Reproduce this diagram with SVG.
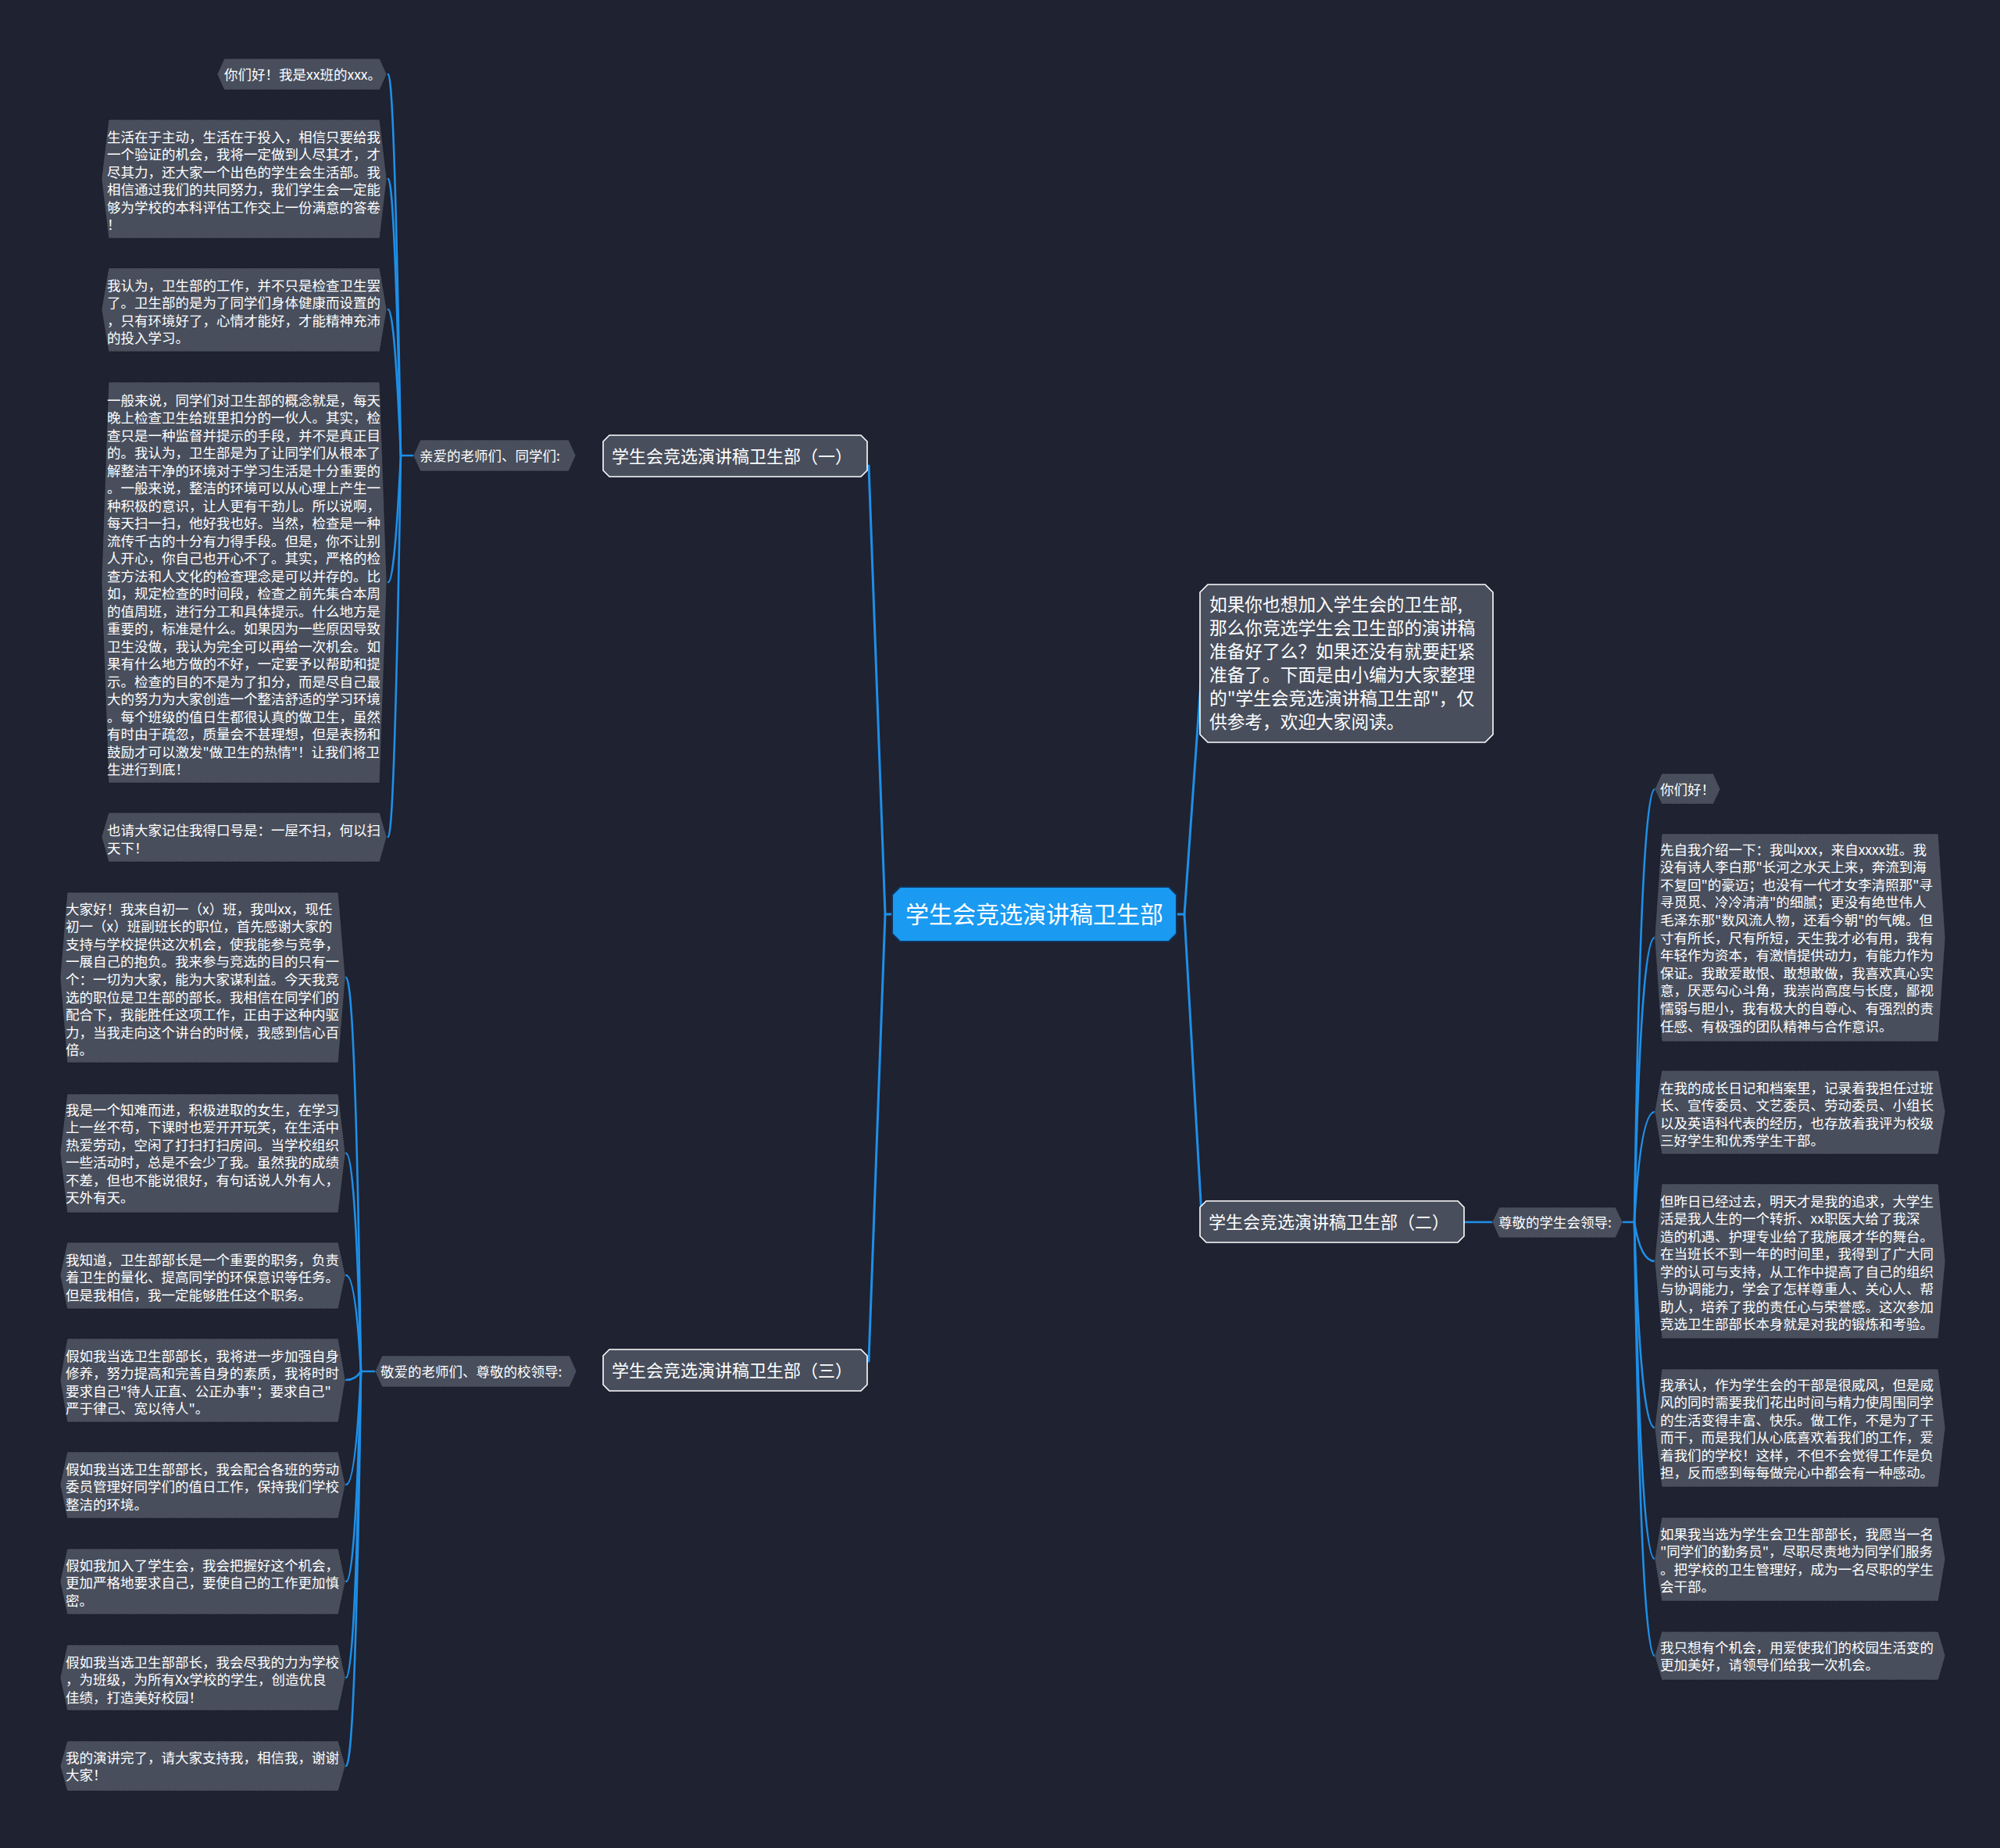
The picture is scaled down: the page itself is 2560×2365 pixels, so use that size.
<svg xmlns="http://www.w3.org/2000/svg" width="2560" height="2365" viewBox="0 0 2560 2365">
<style>
text{font-family:"Noto Sans CJK SC","Noto Sans",sans-serif;fill:#ffffff}
.leaf{fill:#484e5c;stroke:#15181f;stroke-width:1;stroke-dasharray:1.5 1.5}
.lt{font-size:17.5px}
.sub{fill:#484e5c;stroke:#15181f;stroke-width:1;stroke-dasharray:1.5 1.5}
.br{fill:#484e5c;stroke:#ffffff;stroke-width:1.6}
.bt{font-size:22px}
.conn{fill:none;stroke:#1e8fe8;stroke-width:2.6;stroke-linecap:round}
.main{fill:none;stroke:#1e8fe8;stroke-width:3;stroke-linecap:round}
</style>
<rect width="2560" height="2365" fill="#1f2230"/>
<g id="connectors">
<path class="main" d="M1145 1170 H1133 L1112 596"/>
<path class="main" d="M1133 1170 L1112 1742"/>
<path class="main" d="M1503 1170 H1516 L1538 860"/>
<path class="main" d="M1516 1170 L1538 1556"/>
<path class="conn" d="M1108 584 H775"/>
<path class="conn" d="M1108 1754 H775"/>
<path class="conn" d="M1874 1564 H1912"/>
<path class="conn" d="M532 583 H513"/>
<path class="conn" d="M513 583 Q505 95 497 95"/>
<path class="conn" d="M513 583 Q505 229 497 229"/>
<path class="conn" d="M513 583 Q505 396 497 396"/>
<path class="conn" d="M513 583 Q505 745 497 745"/>
<path class="conn" d="M513 583 Q505 1071 497 1071"/>
<path class="conn" d="M2075 1564 H2092"/>
<path class="conn" d="M2092 1564 Q2100 1010 2118 1010"/>
<path class="conn" d="M2092 1564 Q2100 1200 2118 1200"/>
<path class="conn" d="M2092 1564 Q2100 1423 2118 1423"/>
<path class="conn" d="M2092 1564 Q2100 1614 2118 1614"/>
<path class="conn" d="M2092 1564 Q2100 1827 2118 1827"/>
<path class="conn" d="M2092 1564 Q2100 1995 2118 1995"/>
<path class="conn" d="M2092 1564 Q2100 2119 2118 2119"/>
<path class="conn" d="M482 1755 H462"/>
<path class="conn" d="M462 1755 Q455 1251 443 1251"/>
<path class="conn" d="M462 1755 Q455 1476 443 1476"/>
<path class="conn" d="M462 1755 Q455 1632 443 1632"/>
<path class="conn" d="M462 1755 Q455 1766 443 1766"/>
<path class="conn" d="M462 1755 Q455 1900 443 1900"/>
<path class="conn" d="M462 1755 Q455 2024 443 2024"/>
<path class="conn" d="M462 1755 Q455 2147 443 2147"/>
<path class="conn" d="M462 1755 Q455 2260 443 2260"/>
</g>

<g id="root">
<path d="M1152 1135 H1496 L1506 1145 V1195 L1496 1205 H1152 L1142 1195 V1145 Z" fill="#1a9af1" stroke="#13335a" stroke-width="2"/>
<text x="1159" y="1181" style="font-size:30px">学生会竞选演讲稿卫生部</text>
</g>

<g id="desc">
<path d="M1546 748 H1901 L1911 758 V940 L1901 950 H1546 L1536 940 V758 Z" class="br"/>
<text style="font-size:22.7px"><tspan x="1548" y="781.5">如果你也想加入学生会的卫生部,</tspan><tspan x="1548" y="811.5">那么你竞选学生会卫生部的演讲稿</tspan><tspan x="1548" y="841.5">准备好了么？如果还没有就要赶紧</tspan><tspan x="1548" y="871.5">准备了。下面是由小编为大家整理</tspan><tspan x="1548" y="901.5">的"学生会竞选演讲稿卫生部"，仅</tspan><tspan x="1548" y="931.5">供参考，欢迎大家阅读。</tspan></text>
</g>

<g id="branch1">
<path d="M780 557 H1102 L1110 565 V602 L1102 610 H780 L772 602 V565 Z" class="br"/>
<text class="bt" x="783" y="592">学生会竞选演讲稿卫生部（一）</text>
</g>
<g id="branch2">
<path d="M1544 1537 H1866 L1874 1545 V1582 L1866 1590 H1544 L1536 1582 V1545 Z" class="br"/>
<text class="bt" x="1547" y="1572">学生会竞选演讲稿卫生部（二）</text>
</g>
<g id="branch3">
<path d="M780 1727 H1102 L1110 1735 V1772 L1102 1780 H780 L772 1772 V1735 Z" class="br"/>
<text class="bt" x="783" y="1762">学生会竞选演讲稿卫生部（三）</text>
</g>

<g id="sub1">
<path d="M538 563 H728 L737 583 L728 603 H538 L529 583 Z" class="sub"/>
<text class="lt" x="537" y="589.5">亲爱的老师们、同学们:</text>
</g>
<g id="sub2">
<path d="M1919 1545 H2068 L2077 1564 L2068 1584 H1919 L1910 1564 Z" class="sub"/>
<text class="lt" x="1918" y="1570.5">尊敬的学生会领导:</text>
</g>
<g id="sub3">
<path d="M489 1735 H729 L738 1755 L729 1775 H489 L480 1755 Z" class="sub"/>
<text class="lt" x="487" y="1761.5">敬爱的老师们、尊敬的校领导:</text>
</g>

<g id="leaf-a1">
<path class="leaf" d="M287 75 H486 L495 95 L486 115 H287 L278 95 Z"/>
<text class="lt" x="287" y="101.5">你们好！我是xx班的xxx。</text>
</g>
<g id="leaf-a2">
<path class="leaf" d="M139 153 H486 L495 229 L486 305 H139 L130 229 Z"/>
<text class="lt"><tspan x="137" y="181.5">生活在于主动，生活在于投入，相信只要给我</tspan><tspan x="137" dy="22.5">一个验证的机会，我将一定做到人尽其才，才</tspan><tspan x="137" dy="22.5">尽其力，还大家一个出色的学生会生活部。我</tspan><tspan x="137" dy="22.5">相信通过我们的共同努力，我们学生会一定能</tspan><tspan x="137" dy="22.5">够为学校的本科评估工作交上一份满意的答卷</tspan><tspan x="137" dy="22.5">！</tspan></text>
</g>
<g id="leaf-a3">
<path class="leaf" d="M139 343 H486 L495 396 L486 450 H139 L130 396 Z"/>
<text class="lt"><tspan x="137" y="371.5">我认为，卫生部的工作，并不只是检查卫生罢</tspan><tspan x="137" dy="22.5">了。卫生部的是为了同学们身体健康而设置的</tspan><tspan x="137" dy="22.5">，只有环境好了，心情才能好，才能精神充沛</tspan><tspan x="137" dy="22.5">的投入学习。</tspan></text>
</g>
<g id="leaf-a4">
<path class="leaf" d="M139 489 H486 L495 745 L486 1002 H139 L130 745 Z"/>
<text class="lt"><tspan x="137" y="518.5">一般来说，同学们对卫生部的概念就是，每天</tspan><tspan x="137" dy="22.5">晚上检查卫生给班里扣分的一伙人。其实，检</tspan><tspan x="137" dy="22.5">查只是一种监督并提示的手段，并不是真正目</tspan><tspan x="137" dy="22.5">的。我认为，卫生部是为了让同学们从根本了</tspan><tspan x="137" dy="22.5">解整洁干净的环境对于学习生活是十分重要的</tspan><tspan x="137" dy="22.5">。一般来说，整洁的环境可以从心理上产生一</tspan><tspan x="137" dy="22.5">种积极的意识，让人更有干劲儿。所以说啊，</tspan><tspan x="137" dy="22.5">每天扫一扫，他好我也好。当然，检查是一种</tspan><tspan x="137" dy="22.5">流传千古的十分有力得手段。但是，你不让别</tspan><tspan x="137" dy="22.5">人开心，你自己也开心不了。其实，严格的检</tspan><tspan x="137" dy="22.5">查方法和人文化的检查理念是可以并存的。比</tspan><tspan x="137" dy="22.5">如，规定检查的时间段，检查之前先集合本周</tspan><tspan x="137" dy="22.5">的值周班，进行分工和具体提示。什么地方是</tspan><tspan x="137" dy="22.5">重要的，标准是什么。如果因为一些原因导致</tspan><tspan x="137" dy="22.5">卫生没做，我认为完全可以再给一次机会。如</tspan><tspan x="137" dy="22.5">果有什么地方做的不好，一定要予以帮助和提</tspan><tspan x="137" dy="22.5">示。检查的目的不是为了扣分，而是尽自己最</tspan><tspan x="137" dy="22.5">大的努力为大家创造一个整洁舒适的学习环境</tspan><tspan x="137" dy="22.5">。每个班级的值日生都很认真的做卫生，虽然</tspan><tspan x="137" dy="22.5">有时由于疏忽，质量会不甚理想，但是表扬和</tspan><tspan x="137" dy="22.5">鼓励才可以激发"做卫生的热情"！让我们将卫</tspan><tspan x="137" dy="22.5">生进行到底！</tspan></text>
</g>
<g id="leaf-a5">
<path class="leaf" d="M139 1040 H486 L495 1071 L486 1103 H139 L130 1071 Z"/>
<text class="lt"><tspan x="137" y="1068.5">也请大家记住我得口号是：一屋不扫，何以扫</tspan><tspan x="137" dy="23">天下！</tspan></text>
</g>

<g id="leaf-b1">
<path class="leaf" d="M2127 990 H2193 L2202 1010 L2193 1029 H2127 L2118 1010 Z"/>
<text class="lt" x="2125" y="1016.5">你们好！</text>
</g>
<g id="leaf-b2">
<path class="leaf" d="M2127 1067 H2481 L2490 1200 L2481 1333 H2127 L2118 1200 Z"/>
<text class="lt"><tspan x="2125" y="1093.5">先自我介绍一下：我叫xxx，来自xxxx班。我</tspan><tspan x="2125" dy="22.6">没有诗人李白那"长河之水天上来，奔流到海</tspan><tspan x="2125" dy="22.6">不复回"的豪迈；也没有一代才女李清照那"寻</tspan><tspan x="2125" dy="22.6">寻觅觅、冷冷清清"的细腻；更没有绝世伟人</tspan><tspan x="2125" dy="22.6">毛泽东那"数风流人物，还看今朝"的气魄。但</tspan><tspan x="2125" dy="22.6">寸有所长，尺有所短，天生我才必有用，我有</tspan><tspan x="2125" dy="22.6">年轻作为资本，有激情提供动力，有能力作为</tspan><tspan x="2125" dy="22.6">保证。我敢爱敢恨、敢想敢做，我喜欢真心实</tspan><tspan x="2125" dy="22.6">意，厌恶勾心斗角，我崇尚高度与长度，鄙视</tspan><tspan x="2125" dy="22.6">懦弱与胆小，我有极大的自尊心、有强烈的责</tspan><tspan x="2125" dy="22.6">任感、有极强的团队精神与合作意识。</tspan></text>
</g>
<g id="leaf-b3">
<path class="leaf" d="M2127 1370 H2481 L2490 1423 L2481 1477 H2127 L2118 1423 Z"/>
<text class="lt"><tspan x="2125" y="1398.5">在我的成长日记和档案里，记录着我担任过班</tspan><tspan x="2125" dy="22.5">长、宣传委员、文艺委员、劳动委员、小组长</tspan><tspan x="2125" dy="22.5">以及英语科代表的经历，也存放着我评为校级</tspan><tspan x="2125" dy="22.5">三好学生和优秀学生干部。</tspan></text>
</g>
<g id="leaf-b4">
<path class="leaf" d="M2127 1515 H2481 L2490 1614 L2481 1713 H2127 L2118 1614 Z"/>
<text class="lt"><tspan x="2125" y="1543.5">但昨日已经过去，明天才是我的追求，大学生</tspan><tspan x="2125" dy="22.5">活是我人生的一个转折、xx职医大给了我深</tspan><tspan x="2125" dy="22.5">造的机遇、护理专业给了我施展才华的舞台。</tspan><tspan x="2125" dy="22.5">在当班长不到一年的时间里，我得到了广大同</tspan><tspan x="2125" dy="22.5">学的认可与支持，从工作中提高了自己的组织</tspan><tspan x="2125" dy="22.5">与协调能力，学会了怎样尊重人、关心人、帮</tspan><tspan x="2125" dy="22.5">助人，培养了我的责任心与荣誉感。这次参加</tspan><tspan x="2125" dy="22.5">竞选卫生部部长本身就是对我的锻炼和考验。</tspan></text>
</g>
<g id="leaf-b5">
<path class="leaf" d="M2127 1752 H2481 L2490 1827 L2481 1903 H2127 L2118 1827 Z"/>
<text class="lt"><tspan x="2125" y="1778.5">我承认，作为学生会的干部是很威风，但是威</tspan><tspan x="2125" dy="22.5">风的同时需要我们花出时间与精力使周围同学</tspan><tspan x="2125" dy="22.5">的生活变得丰富、快乐。做工作，不是为了干</tspan><tspan x="2125" dy="22.5">而干，而是我们从心底喜欢着我们的工作，爱</tspan><tspan x="2125" dy="22.5">着我们的学校！这样，不但不会觉得工作是负</tspan><tspan x="2125" dy="22.5">担，反而感到每每做完心中都会有一种感动。</tspan></text>
</g>
<g id="leaf-b6">
<path class="leaf" d="M2127 1942 H2481 L2490 1995 L2481 2049 H2127 L2118 1995 Z"/>
<text class="lt"><tspan x="2125" y="1969.5">如果我当选为学生会卫生部部长，我愿当一名</tspan><tspan x="2125" dy="22.5">"同学们的勤务员"，尽职尽责地为同学们服务</tspan><tspan x="2125" dy="22.5">。把学校的卫生管理好，成为一名尽职的学生</tspan><tspan x="2125" dy="22.5">会干部。</tspan></text>
</g>
<g id="leaf-b7">
<path class="leaf" d="M2127 2088 H2481 L2490 2119 L2481 2150 H2127 L2118 2119 Z"/>
<text class="lt"><tspan x="2125" y="2114.5">我只想有个机会，用爱使我们的校园生活变的</tspan><tspan x="2125" dy="22.5">更加美好，请领导们给我一次机会。</tspan></text>
</g>

<g id="leaf-c1">
<path class="leaf" d="M86 1142 H433 L442 1251 L433 1360 H86 L77 1251 Z"/>
<text class="lt"><tspan x="84" y="1169.5">大家好！我来自初一（x）班，我叫xx，现任</tspan><tspan x="84" dy="22.6">初一（x）班副班长的职位，首先感谢大家的</tspan><tspan x="84" dy="22.6">支持与学校提供这次机会，使我能参与竞争，</tspan><tspan x="84" dy="22.6">一展自己的抱负。我来参与竞选的目的只有一</tspan><tspan x="84" dy="22.6">个：一切为大家，能为大家谋利益。今天我竞</tspan><tspan x="84" dy="22.6">选的职位是卫生部的部长。我相信在同学们的</tspan><tspan x="84" dy="22.6">配合下，我能胜任这项工作，正由于这种内驱</tspan><tspan x="84" dy="22.6">力，当我走向这个讲台的时候，我感到信心百</tspan><tspan x="84" dy="22.6">倍。</tspan></text>
</g>
<g id="leaf-c2">
<path class="leaf" d="M86 1400 H433 L442 1476 L433 1552 H86 L77 1476 Z"/>
<text class="lt"><tspan x="84" y="1426.5">我是一个知难而进，积极进取的女生，在学习</tspan><tspan x="84" dy="22.5">上一丝不苟，下课时也爱开开玩笑，在生活中</tspan><tspan x="84" dy="22.5">热爱劳动，空闲了打扫打扫房间。当学校组织</tspan><tspan x="84" dy="22.5">一些活动时，总是不会少了我。虽然我的成绩</tspan><tspan x="84" dy="22.5">不差，但也不能说很好，有句话说人外有人，</tspan><tspan x="84" dy="22.5">天外有天。</tspan></text>
</g>
<g id="leaf-c3">
<path class="leaf" d="M86 1590 H433 L442 1632 L433 1675 H86 L77 1632 Z"/>
<text class="lt"><tspan x="84" y="1618.5">我知道，卫生部部长是一个重要的职务，负责</tspan><tspan x="84" dy="22.5">着卫生的量化、提高同学的环保意识等任务。</tspan><tspan x="84" dy="22.5">但是我相信，我一定能够胜任这个职务。</tspan></text>
</g>
<g id="leaf-c4">
<path class="leaf" d="M86 1713 H433 L442 1766 L433 1820 H86 L77 1766 Z"/>
<text class="lt"><tspan x="84" y="1741.5">假如我当选卫生部部长，我将进一步加强自身</tspan><tspan x="84" dy="22.5">修养，努力提高和完善自身的素质，我将时时</tspan><tspan x="84" dy="22.5">要求自己"待人正直、公正办事"；要求自己"</tspan><tspan x="84" dy="22.5">严于律己、宽以待人"。</tspan></text>
</g>
<g id="leaf-c5">
<path class="leaf" d="M86 1858 H433 L442 1900 L433 1943 H86 L77 1900 Z"/>
<text class="lt"><tspan x="84" y="1886.5">假如我当选卫生部部长，我会配合各班的劳动</tspan><tspan x="84" dy="22.5">委员管理好同学们的值日工作，保持我们学校</tspan><tspan x="84" dy="22.5">整洁的环境。</tspan></text>
</g>
<g id="leaf-c6">
<path class="leaf" d="M86 1982 H433 L442 2024 L433 2066 H86 L77 2024 Z"/>
<text class="lt"><tspan x="84" y="2009.5">假如我加入了学生会，我会把握好这个机会，</tspan><tspan x="84" dy="22.5">更加严格地要求自己，要使自己的工作更加慎</tspan><tspan x="84" dy="22.5">密。</tspan></text>
</g>
<g id="leaf-c7">
<path class="leaf" d="M86 2105 H433 L442 2147 L433 2189 H86 L77 2147 Z"/>
<text class="lt"><tspan x="84" y="2133.5">假如我当选卫生部部长，我会尽我的力为学校</tspan><tspan x="84" dy="22.5">，为班级，为所有Xx学校的学生，创造优良</tspan><tspan x="84" dy="22.5">佳绩，打造美好校园！</tspan></text>
</g>
<g id="leaf-c8">
<path class="leaf" d="M86 2228 H433 L442 2260 L433 2292 H86 L77 2260 Z"/>
<text class="lt"><tspan x="84" y="2255.5">我的演讲完了，请大家支持我，相信我，谢谢</tspan><tspan x="84" dy="22.5">大家！</tspan></text>
</g>
</svg>
